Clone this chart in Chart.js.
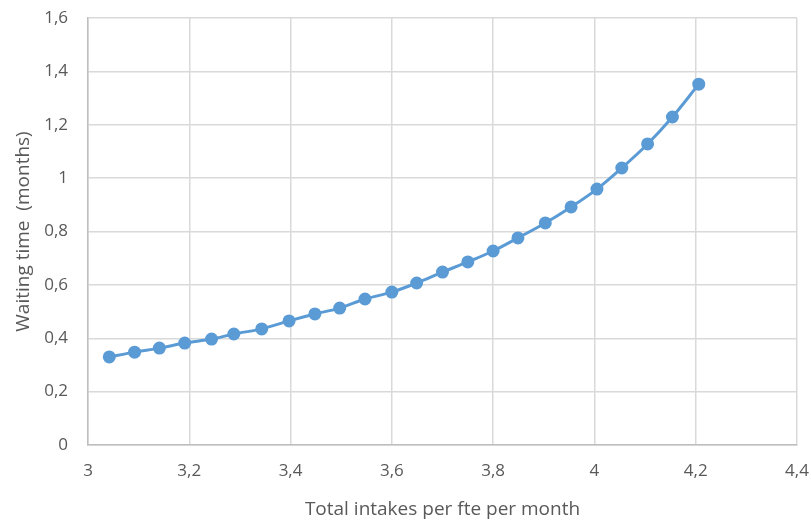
<!DOCTYPE html>
<html>
<head>
<meta charset="utf-8">
<script src="https://cdn.jsdelivr.net/npm/chart.js@4"></script>
<style>
  html, body { margin: 0; padding: 0; background: #fff; }
  #wrap { width: 811px; height: 522px; }
</style>
</head>
<body>
<div id="wrap"><canvas id="myChart"></canvas></div>
<script>
const intakes = [3.042, 3.092, 3.141, 3.191, 3.244, 3.288, 3.343, 3.397, 3.448, 3.497, 3.547, 3.6,
    3.649, 3.7, 3.75, 3.8, 3.849, 3.903, 3.954, 4.005, 4.054, 4.105, 4.154, 4.206]
const waiting = [0.330, 0.348, 0.363, 0.382, 0.397, 0.416, 0.435, 0.465, 0.491, 0.513, 0.547, 0.573,
    0.607, 0.648, 0.686, 0.727, 0.776, 0.832, 0.892, 0.959, 1.038, 1.128, 1.229, 1.352]
const xTitle = 'Total intakes per fte per month'
const yTitle = 'Waiting time  (months)'

const points = intakes.map((x, i) => ({ x: x, y: waiting[i] }))

const fmt = v => String(Math.round(v * 10) / 10).replace('.', ',')
const tickFont = { family: "'Open Sans'", size: 17 }
const titleFont = { family: "'Open Sans'", size: 19 }
const grey = '#595959'

const data = {
    datasets: [{
        data: points,
        showLine: true,
        tension: 0.35,
        borderColor: '#5b9bd5',
        backgroundColor: '#5b9bd5',
        borderWidth: 3,
        pointRadius: 5,
        pointHoverRadius: 5
    }]
}

const config = {
    type: 'scatter',
    data: data,
    options: {
        responsive: true,
        maintainAspectRatio: false,
        animation: false,
        // plot area should land at x 88..797, y 18..445
        layout: { padding: { top: 18, right: 14, left: 0, bottom: 0 } },
        plugins: { legend: { display: false }, tooltip: { enabled: false } },
        scales: {
            x: {
                min: 3, max: 4.4,
                ticks: { stepSize: 0.2, color: grey, font: tickFont, padding: 16, callback: fmt, maxRotation: 0 },
                grid: { color: '#d9d9d9', lineWidth: 1.5, drawTicks: false },
                border: { color: '#bfbfbf', width: 1.5 },
                title: { display: true, text: xTitle, color: grey, font: titleFont, padding: { top: 1, bottom: 1 } },
                afterFit: s => { s.height = 77; s.paddingLeft = 0; s.paddingRight = 0 }
            },
            y: {
                min: 0, max: 1.6,
                ticks: { stepSize: 0.2, color: grey, font: tickFont, padding: 20, callback: fmt },
                grid: { color: '#d9d9d9', lineWidth: 1.5, drawTicks: false },
                border: { color: '#bfbfbf', width: 1.5 },
                title: { display: true, text: yTitle, color: grey, font: titleFont, padding: { top: 12, bottom: 12 } },
                afterFit: s => { s.width = 88; s.paddingTop = 0; s.paddingBottom = 0 }
            }
        }
    }
}

const myChart = new Chart(document.getElementById('myChart'), config)
</script>
</body>
</html>
